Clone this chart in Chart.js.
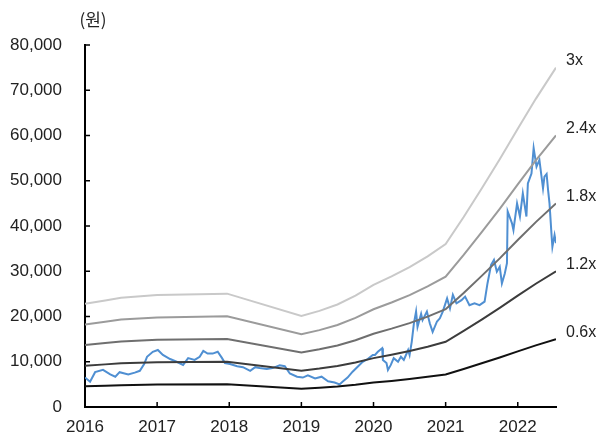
<!DOCTYPE html>
<html>
<head>
<meta charset="utf-8">
<script src="https://cdn.jsdelivr.net/npm/chart.js@4.4.1/dist/chart.umd.min.js"></script>
<style>
  body { margin:0; background:#fff; }
  #wrap { width:607px; height:441px; position:relative; }
</style>
</head>
<body>
<div id="wrap"><canvas id="c"></canvas></div>
<script>
// price (won), x = decimal year
const priceX = [2016.00,2016.07,2016.14,2016.25,2016.35,2016.42,2016.48,2016.60,2016.69,2016.76,2016.82,2016.86,2016.94,
  2017.01,2017.08,2017.18,2017.27,2017.36,2017.43,2017.52,2017.59,2017.64,2017.70,2017.77,2017.84,2017.90,2017.94,
  2018.01,2018.11,2018.19,2018.29,2018.36,2018.42,2018.52,2018.60,2018.70,2018.77,2018.84,2018.94,
  2019.02,2019.09,2019.19,2019.28,2019.37,2019.46,2019.53,2019.57,2019.64,2019.71,2019.78,2019.85,2019.92,2019.99,
  2020.02,2020.06,2020.12,2020.13,2020.18,2020.20,2020.24,2020.28,2020.34,2020.38,2020.42,2020.48,2020.50,2020.53,2020.56,2020.59,2020.61,2020.66,2020.68,2020.74,2020.78,2020.82,2020.88,2020.92,2020.96,
  2021.02,2021.06,2021.10,2021.15,2021.22,2021.27,2021.33,2021.40,2021.47,2021.54,2021.58,2021.63,2021.67,2021.71,2021.75,2021.78,2021.82,2021.85,2021.86,2021.92,2021.94,2021.99,
  2022.03,2022.07,2022.12,2022.14,2022.19,2022.22,2022.26,2022.30,2022.35,2022.37,2022.40,2022.42,2022.44,2022.47,2022.48,2022.51,2022.53];
const price = [6500,5600,7700,8200,7200,6700,7700,7200,7600,8000,9500,11100,12200,
  12600,11500,10600,10000,9300,10800,10400,11100,12400,11800,11800,12200,10800,9700,
  9500,9000,8800,8000,8800,8600,8400,8600,9200,9000,7400,6700,
  6500,7000,6300,6700,5700,5400,5000,5600,6500,7800,8900,10000,10600,11500,
  11500,12200,13000,10400,9700,8200,9300,10800,10000,11100,10400,12600,11500,14400,18500,21100,17700,20600,19200,21100,18500,16600,18900,19600,21100,
  24000,21800,24800,22900,23600,24400,22500,22900,22500,23300,27300,31400,32500,29900,31000,27300,29500,31800,43200,40600,39100,45000,
  42100,47200,42100,49400,51600,57200,53100,54600,48300,50900,51500,48000,45000,37600,35400,38000,36200];

// book value per share behind the PBR bands
const bpsX = [2016.00,2016.28,2016.50,2017.00,2017.97,2019.00,2019.25,2019.50,2019.75,2020.00,2020.25,2020.50,2020.75,2021.00,2021.25,2021.50,2021.75,2022.00,2022.25,2022.53];
const bps  = [7600,7850,8050,8250,8350,6700,7080,7550,8200,9000,9620,10300,11100,12000,14000,16100,18250,20500,22700,25000];

const multiples = [3, 2.4, 1.8, 1.2, 0.6];
const bandLabels = ['3x','2.4x','1.8x','1.2x','0.6x'];
const bandColors = ['#c9c9c9','#9b9b9b','#6f6f6f','#3c3c3c','#111111'];

const yTicks = [0,10000,20000,30000,40000,50000,60000,70000,80000];
const xYears = [2016,2017,2018,2019,2020,2021,2022];

const datasets = [];
multiples.forEach((m,i)=>{
  datasets.push({
    label: bandLabels[i],
    endLabel: bandLabels[i],
    data: bpsX.map((x,j)=>({x:x, y:bps[j]*m})),
    borderColor: bandColors[i],
    borderWidth: 2,
    pointRadius: 0,
    tension: 0
  });
});
datasets.push({
  label: 'price',
  data: priceX.map((x,j)=>({x:x, y:price[j]})),
  borderColor: '#4f8fd2',
  borderWidth: 2,
  pointRadius: 0,
  tension: 0
});

const extras = {
  id: 'extras',
  afterDraw(chart){
    const ctx = chart.ctx, a = chart.chartArea, x = chart.scales.x, y = chart.scales.y;
    ctx.save();
    ctx.strokeStyle = '#000';
    ctx.lineWidth = 1.5;
    ctx.beginPath();
    yTicks.forEach(v=>{
      const py = y.getPixelForValue(v);
      ctx.moveTo(a.left, py); ctx.lineTo(a.left+5, py);
    });
    xYears.forEach(v=>{
      const px = x.getPixelForValue(v);
      ctx.moveTo(px, a.bottom); ctx.lineTo(px, a.bottom-5);
    });
    ctx.stroke();
    ctx.fillStyle = '#222';
    ctx.font = '16px "Liberation Sans"';
    ctx.textBaseline = 'middle';
    ctx.textAlign = 'left';
    chart.data.datasets.forEach(ds=>{
      if(!ds.endLabel) return;
      const last = ds.data[ds.data.length-1];
      ctx.fillText(ds.endLabel, a.right+10, y.getPixelForValue(last.y)-7);
    });
    ctx.font = '17px "Noto Sans CJK KR"';
    ctx.textAlign = 'center';
    ctx.fillText('(원)', a.left+8, 20);
    ctx.restore();
  }
};

new Chart(document.getElementById('c'), {
  type: 'line',
  data: { datasets: datasets },
  options: {
    responsive: true,
    maintainAspectRatio: false,
    animation: false,
    layout: { padding: { top: 45, right: 51, left: 0, bottom: 0 } },
    plugins: { legend: { display: false }, tooltip: { enabled: false } },
    scales: {
      x: {
        type: 'linear',
        min: 2016, max: 2022.53,
        afterFit: s => { s.height = 34; },
        grid: { drawOnChartArea: false, drawTicks: false },
        border: { color: '#000', width: 2 },
        ticks: {
          stepSize: 1, includeBounds: false, padding: 10,
          color: '#222', font: { family: 'Liberation Sans', size: 17 },
          callback: v => String(v)
        }
      },
      y: {
        min: 0, max: 80000,
        afterFit: s => { s.width = 85; },
        grid: { drawOnChartArea: false, drawTicks: false },
        border: { color: '#000', width: 2 },
        ticks: {
          stepSize: 10000, padding: 23,
          color: '#222', font: { family: 'Liberation Sans', size: 17 },
          callback: v => v.toLocaleString('en-US')
        }
      }
    }
  },
  plugins: [extras]
});
</script>
</body>
</html>
